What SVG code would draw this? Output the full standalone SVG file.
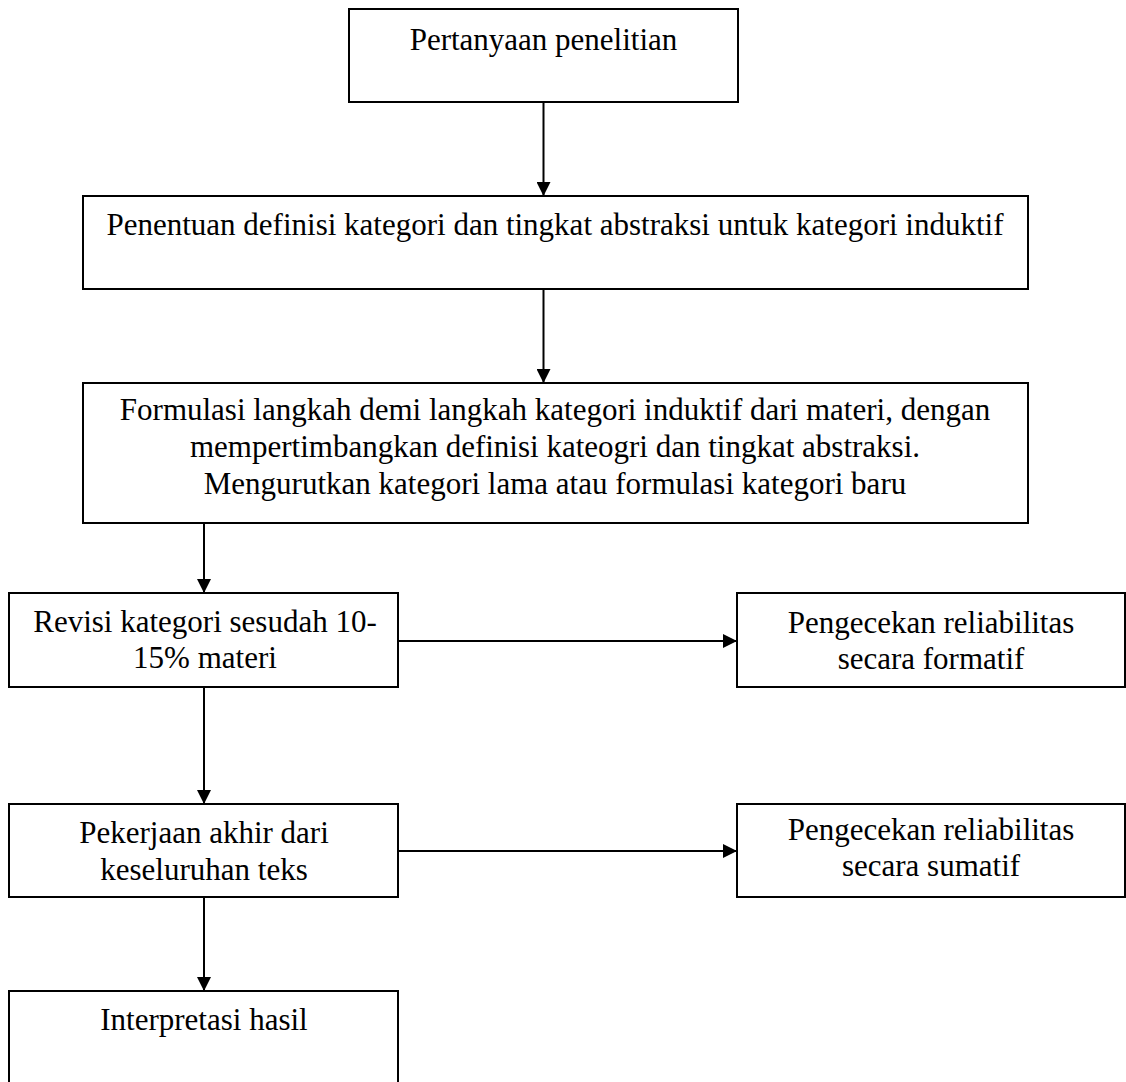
<svg xmlns="http://www.w3.org/2000/svg" width="1126" height="1082" viewBox="0 0 1126 1082">
<defs>
<style>
.box{fill:#fff;stroke:#000;stroke-width:2}
.t{font-family:'Liberation Serif','DejaVu Serif',serif;font-size:31px;fill:#000;text-anchor:middle}
.c{stroke:#000;stroke-width:2;fill:none;marker-end:url(#ah)}
</style>
<marker id="ah" markerUnits="userSpaceOnUse" markerWidth="14" markerHeight="14" refX="14" refY="7" orient="auto">
<path d="M0,0 L14,7 L0,14 z" fill="#000"/>
</marker>
</defs>
<rect width="1126" height="1082" fill="#fff"/>
<g id="connectors">
<line class="c" x1="543.5" y1="102" x2="543.5" y2="196"/>
<line class="c" x1="543.5" y1="289" x2="543.5" y2="383"/>
<line class="c" x1="204" y1="523" x2="204" y2="593"/>
<line class="c" x1="398" y1="641" x2="737" y2="641"/>
<line class="c" x1="204" y1="687" x2="204" y2="804"/>
<line class="c" x1="398" y1="851" x2="737" y2="851"/>
<line class="c" x1="204" y1="897" x2="204" y2="991"/>
</g>
<g id="n1">
<rect class="box" x="349" y="9" width="389" height="93"/>
<text class="t" x="543.5" y="50">Pertanyaan penelitian</text>
</g>
<g id="n2">
<rect class="box" x="83" y="196" width="945" height="93"/>
<text class="t" x="555" y="235">Penentuan definisi kategori dan tingkat abstraksi untuk kategori induktif</text>
</g>
<g id="n3">
<rect class="box" x="83" y="383" width="945" height="140"/>
<text class="t" x="555" y="420">Formulasi langkah demi langkah kategori induktif dari materi, dengan</text>
<text class="t" x="555" y="457">mempertimbangkan definisi kateogri dan tingkat abstraksi.</text>
<text class="t" x="555" y="494">Mengurutkan kategori lama atau formulasi kategori baru</text>
</g>
<g id="n4">
<rect class="box" x="9" y="593" width="389" height="94"/>
<text class="t" x="205" y="632">Revisi kategori sesudah 10-</text>
<text class="t" x="205" y="668">15% materi</text>
</g>
<g id="n5">
<rect class="box" x="737" y="593" width="388" height="94"/>
<text class="t" x="931" y="633">Pengecekan reliabilitas</text>
<text class="t" x="931" y="669">secara formatif</text>
</g>
<g id="n6">
<rect class="box" x="9" y="804" width="389" height="93"/>
<text class="t" x="204" y="843">Pekerjaan akhir dari</text>
<text class="t" x="204" y="880">keseluruhan teks</text>
</g>
<g id="n7">
<rect class="box" x="737" y="804" width="388" height="93"/>
<text class="t" x="931" y="840">Pengecekan reliabilitas</text>
<text class="t" x="931" y="876">secara sumatif</text>
</g>
<g id="n8">
<rect class="box" x="9" y="991" width="389" height="100"/>
<text class="t" x="204" y="1030">Interpretasi hasil</text>
</g>
</svg>
